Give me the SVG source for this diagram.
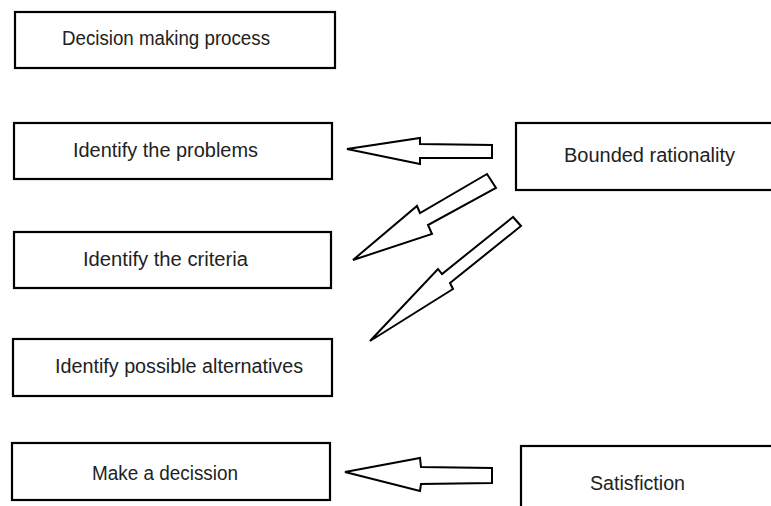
<svg xmlns="http://www.w3.org/2000/svg" width="771" height="506" viewBox="0 0 771 506">
  <style>
    .box { fill: #ffffff; stroke: #000000; stroke-width: 2.2; }
    .label { font-family: "Liberation Sans", Arial, sans-serif; font-size: 20px; fill: #222222; }
    .arrow { fill: #ffffff; stroke: #000000; stroke-width: 2; stroke-linejoin: miter; }
  </style>
  <rect width="771" height="506" fill="#ffffff"/>

  <g id="node-process">
    <rect class="box" x="15" y="12" width="320" height="56"/>
    <text class="label" x="62" y="45" textLength="208" lengthAdjust="spacingAndGlyphs">Decision making process</text>
  </g>

  <g id="node-problems">
    <rect class="box" x="14" y="123" width="318" height="56"/>
    <text class="label" x="73" y="157" textLength="185" lengthAdjust="spacingAndGlyphs">Identify the problems</text>
  </g>

  <g id="node-criteria">
    <rect class="box" x="14" y="232" width="317" height="56"/>
    <text class="label" x="83" y="266" textLength="165" lengthAdjust="spacingAndGlyphs">Identify the criteria</text>
  </g>

  <g id="node-alternatives">
    <rect class="box" x="13" y="339" width="319" height="57"/>
    <text class="label" x="55" y="373" textLength="248" lengthAdjust="spacingAndGlyphs">Identify possible alternatives</text>
  </g>

  <g id="node-decision">
    <rect class="box" x="12" y="443" width="318" height="57"/>
    <text class="label" x="92" y="480" textLength="146" lengthAdjust="spacingAndGlyphs">Make a decission</text>
  </g>

  <g id="node-bounded">
    <rect class="box" x="516" y="123" width="262" height="67"/>
    <text class="label" x="564" y="162" textLength="171" lengthAdjust="spacingAndGlyphs">Bounded rationality</text>
  </g>

  <g id="node-satisfiction">
    <rect class="box" x="521" y="446" width="260" height="80"/>
    <text class="label" x="590" y="490" textLength="95" lengthAdjust="spacingAndGlyphs">Satisfiction</text>
  </g>

  <g id="connectors">
    <!-- block arrow: bounded rationality to identify the problems -->
    <polygon class="arrow" points="347,149 420,138 420,144 492,145 492,158 420,158 420,164"/>
    <!-- block arrow: bounded rationality to identify the criteria -->
    <polygon class="arrow" points="487,174 420,213 417,206 353,260 432,234 428,225 496,188"/>
    <!-- block arrow: bounded rationality to identify possible alternatives -->
    <polygon class="arrow" points="513,217 442,274 438,269 370,341 453,289 450,283 521,226"/>
    <!-- block arrow: satisfiction to make a decission -->
    <polygon class="arrow" points="345,472 420,458 421,467 492,468 492,483 421,484 420,491"/>
  </g>
</svg>
